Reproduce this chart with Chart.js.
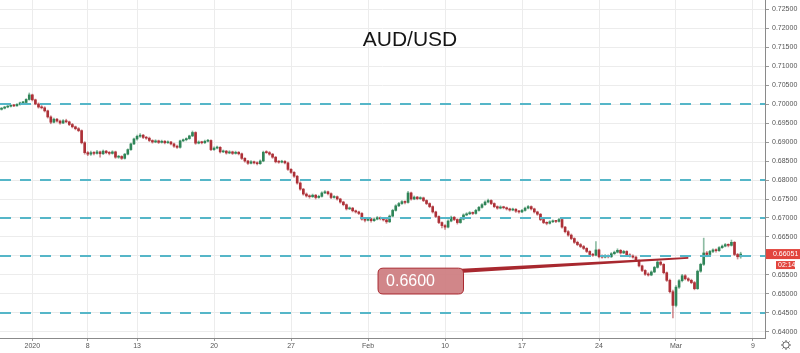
<!DOCTYPE html>
<html>
<head>
<meta charset="utf-8">
<title>AUD/USD</title>
<script src="https://cdn.jsdelivr.net/npm/chart.js@4.4.1/dist/chart.umd.min.js"></script>
<style>
  html, body { margin: 0; padding: 0; background: #fff; }
  #wrap { width: 800px; height: 353px; }
</style>
</head>
<body>
<div id="wrap"><canvas id="chart" width="800" height="353"></canvas></div>
<script>
// AUD/USD, 5 bars per trading day, prices in pips (x 10000)
const pair = 'AUD/USD';
const tickLabels = ['2020', '8', '13', '20', '27', 'Feb', '10', '17', '24', 'Mar', '9'];
const tickDays = [-6.8, -3.2, 0, 5, 10, 15, 20, 25, 30, 35, 40]; // trading days from Jan 13
const priceTicks = [0.640, 0.645, 0.650, 0.655, 0.660, 0.665, 0.670, 0.675, 0.680,
                    0.685, 0.690, 0.695, 0.700, 0.705, 0.710, 0.715, 0.720, 0.725];
const levels = [0.700, 0.680, 0.670, 0.660, 0.645];
const lastPrice = 0.66051;
const countdown = '02:14';
const calloutLabel = '0.6600';
const calloutPrice = 0.6595;
const firstCandleDay = -8.8;
const candlesPerDay = 5;

// [open, high, low, close]
const candles = [
  [6986,6991,6984,6989],[6989,6994,6987,6992],[6992,6996,6990,6994],[6994,6998,6992,6996],[6996,6999,6993,6995],
  [6995,7001,6994,6999],[6999,7005,6997,7003],[7003,7007,7001,7004],[7004,7014,7002,7012],[7012,7029,7010,7024],
  [7024,7026,7008,7011],[7011,7013,6998,7000],[7000,7003,6989,6992],[6992,6996,6987,6990],[6990,6993,6979,6982],
  [6982,6984,6963,6966],[6966,6969,6948,6952],[6952,6963,6950,6960],[6960,6962,6952,6955],[6955,6958,6947,6950],
  [6950,6959,6948,6956],[6956,6960,6951,6953],[6953,6955,6943,6946],[6946,6949,6937,6940],[6940,6942,6932,6935],
  [6935,6938,6927,6930],[6930,6932,6895,6898],[6898,6901,6868,6872],[6872,6875,6864,6868],[6868,6876,6865,6872],
  [6872,6875,6866,6870],[6870,6878,6868,6874],[6874,6876,6860,6869],[6869,6879,6867,6876],[6876,6878,6869,6872],
  [6872,6875,6866,6870],[6870,6877,6868,6874],[6874,6876,6857,6860],[6860,6865,6857,6862],[6862,6864,6854,6857],
  [6857,6870,6855,6868],[6868,6882,6866,6880],[6880,6897,6878,6895],[6895,6910,6893,6908],[6908,6918,6905,6915],
  [6915,6922,6912,6918],[6918,6920,6909,6912],[6912,6915,6907,6910],[6910,6913,6901,6904],[6904,6906,6897,6900],
  [6900,6906,6898,6903],[6903,6905,6896,6899],[6899,6905,6897,6902],[6902,6904,6895,6898],[6898,6903,6896,6900],
  [6900,6902,6892,6895],[6895,6897,6886,6889],[6889,6892,6883,6886],[6886,6905,6884,6903],[6903,6908,6901,6906],
  [6906,6911,6903,6909],[6909,6918,6907,6916],[6916,6929,6914,6925],[6925,6927,6894,6897],[6897,6903,6895,6900],
  [6900,6902,6895,6898],[6898,6905,6896,6902],[6902,6907,6900,6904],[6904,6906,6877,6880],[6880,6887,6878,6884],
  [6884,6889,6882,6886],[6886,6888,6871,6874],[6874,6879,6872,6876],[6876,6878,6868,6871],[6871,6877,6869,6874],
  [6874,6876,6867,6870],[6870,6876,6868,6873],[6873,6875,6866,6869],[6869,6871,6854,6857],[6857,6859,6847,6850],
  [6850,6852,6841,6844],[6844,6851,6842,6848],[6848,6850,6842,6845],[6845,6848,6840,6843],[6843,6853,6841,6850],
  [6850,6876,6848,6873],[6873,6877,6870,6872],[6872,6875,6865,6868],[6868,6870,6857,6860],[6860,6862,6845,6848],
  [6848,6851,6844,6847],[6847,6852,6845,6849],[6849,6851,6842,6845],[6845,6847,6825,6828],[6828,6830,6817,6820],
  [6820,6822,6807,6810],[6810,6812,6789,6792],[6792,6795,6773,6776],[6776,6778,6760,6763],[6763,6766,6755,6758],
  [6758,6761,6752,6756],[6756,6763,6754,6760],[6760,6762,6750,6754],[6754,6760,6752,6757],[6757,6769,6755,6766],
  [6766,6772,6764,6769],[6769,6771,6761,6764],[6764,6766,6751,6754],[6754,6759,6752,6756],[6756,6758,6747,6750],
  [6750,6752,6739,6742],[6742,6744,6732,6735],[6735,6737,6721,6724],[6724,6729,6722,6726],[6726,6728,6716,6719],
  [6719,6721,6713,6716],[6716,6718,6709,6712],[6712,6714,6694,6697],[6697,6699,6690,6694],[6694,6701,6692,6698],
  [6698,6700,6689,6693],[6693,6700,6691,6697],[6697,6704,6695,6701],[6701,6703,6695,6698],[6698,6700,6692,6695],
  [6695,6697,6686,6690],[6690,6708,6688,6705],[6705,6723,6703,6720],[6720,6735,6718,6732],[6732,6741,6730,6738],
  [6738,6746,6736,6743],[6743,6745,6737,6741],[6741,6770,6739,6766],[6766,6768,6747,6750],[6750,6758,6748,6755],
  [6755,6757,6748,6751],[6751,6756,6749,6753],[6753,6755,6743,6746],[6746,6748,6735,6738],[6738,6740,6727,6730],
  [6730,6732,6713,6716],[6716,6718,6701,6704],[6704,6706,6685,6688],[6688,6690,6674,6680],[6680,6683,6670,6676],
  [6676,6695,6674,6692],[6692,6705,6690,6702],[6702,6704,6693,6696],[6696,6698,6684,6688],[6688,6700,6686,6697],
  [6697,6711,6695,6708],[6708,6714,6706,6711],[6711,6717,6709,6714],[6714,6716,6709,6712],[6712,6723,6710,6720],
  [6720,6731,6718,6728],[6728,6738,6726,6735],[6735,6745,6733,6742],[6742,6750,6740,6746],[6746,6748,6735,6738],
  [6738,6740,6727,6730],[6730,6732,6723,6726],[6726,6732,6724,6729],[6729,6731,6724,6727],[6727,6729,6721,6724],
  [6724,6726,6718,6721],[6721,6726,6719,6723],[6723,6725,6715,6718],[6718,6720,6713,6716],[6716,6723,6714,6720],
  [6720,6729,6718,6726],[6726,6733,6724,6730],[6730,6732,6721,6724],[6724,6726,6713,6716],[6716,6718,6707,6710],
  [6710,6712,6693,6696],[6696,6698,6685,6688],[6688,6690,6682,6686],[6686,6693,6684,6690],[6690,6695,6688,6692],
  [6692,6694,6688,6691],[6691,6699,6689,6696],[6696,6698,6673,6676],[6676,6678,6661,6664],[6664,6667,6652,6655],
  [6655,6658,6643,6646],[6646,6648,6633,6636],[6636,6639,6627,6630],[6630,6633,6622,6625],[6625,6628,6617,6620],
  [6620,6622,6609,6612],[6612,6614,6601,6604],[6604,6607,6599,6602],[6602,6638,6600,6616],[6616,6618,6595,6598],
  [6598,6603,6594,6597],[6597,6604,6595,6600],[6600,6603,6595,6598],[6598,6609,6596,6606],[6606,6613,6604,6610],
  [6610,6619,6608,6615],[6615,6617,6605,6608],[6608,6615,6606,6612],[6612,6614,6600,6603],[6603,6606,6597,6600],
  [6600,6603,6594,6597],[6597,6600,6585,6588],[6588,6590,6571,6574],[6574,6576,6559,6562],[6562,6564,6549,6552],
  [6552,6556,6547,6550],[6550,6561,6548,6558],[6558,6573,6556,6570],[6570,6588,6568,6584],[6584,6587,6575,6578],
  [6578,6580,6553,6556],[6556,6558,6533,6536],[6536,6539,6503,6506],[6506,6510,6437,6470],[6470,6522,6466,6518],
  [6518,6538,6515,6535],[6535,6552,6532,6548],[6548,6551,6537,6540],[6540,6543,6533,6536],[6536,6539,6527,6530],
  [6530,6533,6511,6514],[6514,6563,6512,6560],[6560,6581,6557,6578],[6578,6647,6575,6608],[6608,6612,6598,6604],
  [6604,6615,6602,6612],[6612,6619,6609,6616],[6616,6619,6610,6614],[6614,6625,6612,6622],[6622,6629,6620,6626],
  [6626,6633,6624,6630],[6630,6632,6624,6628],[6628,6642,6626,6636],[6636,6638,6601,6604],[6604,6607,6592,6598],
  [6598,6610,6594,6605.1]
];

const X_MIN = -8.9, X_MAX = 40.78;
const Y_MIN = 0.63842, Y_MAX = 0.72737;
const UP = '#2f8558', DOWN = '#ad3037';
const UP_WICK = 'rgba(47,133,88,0.55)', DOWN_WICK = 'rgba(173,48,55,0.55)';
const FONT = '"Liberation Sans", Arial, sans-serif';

const dayOf = i => firstCandleDay + i / candlesPerDay;
const pip = v => v / 10000;
const isUp = c => c[3] >= c[0];

const bodies = candles.map((c, i) => ({ x: dayOf(i), y: [pip(c[0]), pip(c[3])] }));
const wicks = candles.map((c, i) => ({ x: dayOf(i), y: [pip(c[2]), pip(c[1])] }));

const levelSets = levels.map(l => ({
  type: 'line',
  data: [{ x: X_MIN, y: l }, { x: X_MAX, y: l }],
  borderColor: '#55b6c8',
  borderWidth: 2,
  borderDash: [11, 9],
  pointRadius: 0,
  order: 0
}));

function roundRect(ctx, x, y, w, h, r) {
  ctx.beginPath();
  ctx.moveTo(x + r, y);
  ctx.lineTo(x + w - r, y);
  ctx.quadraticCurveTo(x + w, y, x + w, y + r);
  ctx.lineTo(x + w, y + h - r);
  ctx.quadraticCurveTo(x + w, y + h, x + w - r, y + h);
  ctx.lineTo(x + r, y + h);
  ctx.quadraticCurveTo(x, y + h, x, y + h - r);
  ctx.lineTo(x, y + r);
  ctx.quadraticCurveTo(x, y, x + r, y);
  ctx.closePath();
}

const overlay = {
  id: 'overlay',
  afterDatasetsDraw(chart) {
    const { ctx, scales: { x, y } } = chart;
    ctx.save();
    // title
    ctx.font = '21px ' + FONT;
    ctx.fillStyle = '#151515';
    ctx.textAlign = 'center';
    ctx.textBaseline = 'middle';
    ctx.fillText(pair, 410, 40);

    // callout pointing at the 0.66 level
    const tipX = x.getPixelForValue(35.8), tipY = y.getPixelForValue(calloutPrice);
    const bl = x.getPixelForValue(15.65), br = x.getPixelForValue(21.2);
    const bt = y.getPixelForValue(0.6568), bb = y.getPixelForValue(0.6500);
    ctx.fillStyle = '#a8282f';
    ctx.beginPath();
    ctx.moveTo(br - 2, bt + 0.5);
    ctx.lineTo(tipX, tipY - 0.8);
    ctx.lineTo(tipX, tipY + 0.8);
    ctx.lineTo(br, bt + 4.5);
    ctx.closePath();
    ctx.fill();
    roundRect(ctx, bl, bt, br - bl, bb - bt, 5);
    ctx.fillStyle = 'rgba(207,128,131,0.95)';
    ctx.fill();
    ctx.strokeStyle = '#a8282f';
    ctx.lineWidth = 1;
    ctx.stroke();
    ctx.fillStyle = '#ffffff';
    ctx.font = '16px ' + FONT;
    ctx.textAlign = 'left';
    ctx.fillText(calloutLabel, bl + 8, (bt + bb) / 2 + 1);
    ctx.restore();
  },
  afterDraw(chart) {
    const { ctx, chartArea, scales: { y } } = chart;
    ctx.save();
    // last price tag on the axis
    const ly = y.getPixelForValue(lastPrice);
    ctx.fillStyle = '#e2453e';
    ctx.fillRect(chartArea.right + 1, ly - 5, 35, 10);
    ctx.fillRect(chartArea.right + 11, ly + 7, 19, 8);
    ctx.fillStyle = '#ffffff';
    ctx.font = '7px ' + FONT;
    ctx.textAlign = 'left';
    ctx.textBaseline = 'middle';
    ctx.fillText(lastPrice.toFixed(5), chartArea.right + 8, ly);
    ctx.fillText(countdown, chartArea.right + 13, ly + 11);
    // settings cog
    const cx = 786, cy = 345;
    ctx.strokeStyle = '#666';
    ctx.lineWidth = 1;
    ctx.beginPath();
    ctx.arc(cx, cy, 3.2, 0, Math.PI * 2);
    ctx.stroke();
    for (let k = 0; k < 8; k++) {
      const a = k * Math.PI / 4;
      ctx.beginPath();
      ctx.moveTo(cx + Math.cos(a) * 3.2, cy + Math.sin(a) * 3.2);
      ctx.lineTo(cx + Math.cos(a) * 5, cy + Math.sin(a) * 5);
      ctx.stroke();
    }
    ctx.restore();
  }
};

Chart.defaults.font.family = FONT;

new Chart(document.getElementById('chart'), {
  type: 'bar',
  data: {
    datasets: [
      ...levelSets,
      {
        data: bodies,
        backgroundColor: candles.map(c => isUp(c) ? UP : DOWN),
        barThickness: 2,
        minBarLength: 1,
        grouped: false,
        order: 1
      },
      {
        data: wicks,
        backgroundColor: candles.map(c => isUp(c) ? UP_WICK : DOWN_WICK),
        barThickness: 1,
        grouped: false,
        order: 2
      }
    ]
  },
  options: {
    responsive: false,
    animation: false,
    devicePixelRatio: 1,
    layout: { padding: 0 },
    plugins: {
      legend: { display: false },
      tooltip: { enabled: false },
      title: { display: false }
    },
    scales: {
      x: {
        type: 'linear',
        min: X_MIN,
        max: X_MAX,
        offset: false,
        grid: { color: '#ececec', offset: false, tickLength: 3, tickColor: '#999' },
        border: { color: '#8a8a8a' },
        ticks: {
          autoSkip: false,
          maxRotation: 0,
          padding: 1,
          color: '#555',
          font: { size: 7 },
          callback: (v, i) => tickLabels[i]
        },
        afterBuildTicks: s => { s.ticks = tickDays.map(v => ({ value: v })); },
        afterFit: s => { s.height = 15; s.paddingLeft = 0; s.paddingRight = 0; }
      },
      y: {
        type: 'linear',
        position: 'right',
        min: Y_MIN,
        max: Y_MAX,
        grid: { color: '#ececec', tickLength: 4, tickColor: '#999' },
        border: { color: '#8a8a8a' },
        ticks: {
          padding: 3,
          color: '#555',
          font: { size: 7 },
          callback: v => v.toFixed(5)
        },
        afterBuildTicks: s => { s.ticks = priceTicks.map(v => ({ value: v })); },
        afterFit: s => { s.width = 35; s.paddingTop = 0; s.paddingBottom = 0; }
      }
    }
  },
  plugins: [overlay]
});
</script>
</body>
</html>
